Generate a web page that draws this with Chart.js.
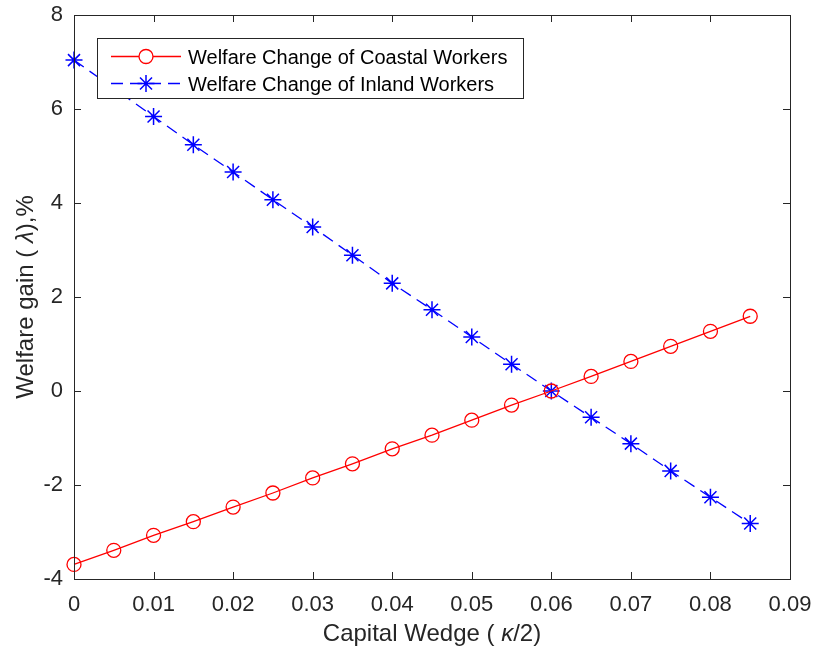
<!DOCTYPE html>
<html>
<head>
<meta charset="utf-8">
<script src="https://cdn.jsdelivr.net/npm/chart.js@4.4.1/dist/chart.umd.min.js"></script>
<style>
  html, body { margin: 0; padding: 0; background: #ffffff; }
  #wrap { width: 815px; height: 649px; }
</style>
</head>
<body>
<div id="wrap"><canvas id="c" width="815" height="649"></canvas></div>
<script>
// ---- Data ----
const kappaHalf = [0, 0.005, 0.01, 0.015, 0.02, 0.025, 0.03, 0.035, 0.04, 0.045,
                   0.05, 0.055, 0.06, 0.065, 0.07, 0.075, 0.08, 0.085];
const coastal = [-3.69, -3.39, -3.07, -2.78, -2.47, -2.17, -1.85, -1.55, -1.23, -0.94,
                 -0.62, -0.30, 0.00, 0.31, 0.63, 0.95, 1.27, 1.59];
const inland = [7.04, 6.44, 5.84, 5.24, 4.66, 4.07, 3.49, 2.89, 2.29, 1.73,
                1.15, 0.57, 0.00, -0.56, -1.12, -1.70, -2.26, -2.82];
const seriesNames = ['Welfare Change of Coastal Workers', 'Welfare Change of Inland Workers'];
const xTicks = [0, 0.01, 0.02, 0.03, 0.04, 0.05, 0.06, 0.07, 0.08, 0.09];
const yTicks = [-4, -2, 0, 2, 4, 6, 8];
const xTitleParts = [['Capital Wedge ( ', false], ['κ', true], ['/2)', false]];
const yTitleParts = [['Welfare gain ( ', false], ['λ', true], ['),%', false]];

const AX = '#262626';
const FONT = 'Arial, "Liberation Sans", Helvetica, sans-serif';

function toPts(xs, ys) { return xs.map((x, i) => ({ x: x, y: ys[i] })); }

function drawParts(ctx, parts, size) {
  let total = 0;
  parts.forEach(p => {
    ctx.font = (p[1] ? 'italic ' : '') + size + 'px ' + FONT;
    total += ctx.measureText(p[0]).width;
  });
  let x = -total / 2;
  parts.forEach(p => {
    ctx.font = (p[1] ? 'italic ' : '') + size + 'px ' + FONT;
    ctx.fillText(p[0], x, 0);
    x += ctx.measureText(p[0]).width;
  });
}

const framePlugin = {
  id: 'matlabFrame',
  afterDatasetsDraw(chart) {
    const { ctx, chartArea: a, scales } = chart;
    const xs = scales.x, ys = scales.y;
    ctx.save();
    ctx.strokeStyle = AX;
    ctx.lineWidth = 1;
    ctx.strokeRect(Math.round(a.left) + 0.5, Math.round(a.top) + 0.5,
                   Math.round(a.right - a.left), Math.round(a.bottom - a.top));
    const tl = 7;
    ctx.beginPath();
    xTicks.forEach(v => {
      const px = Math.round(xs.getPixelForValue(v)) + 0.5;
      ctx.moveTo(px, a.bottom); ctx.lineTo(px, a.bottom - tl);
      ctx.moveTo(px, a.top); ctx.lineTo(px, a.top + tl);
    });
    yTicks.forEach(v => {
      const py = Math.round(ys.getPixelForValue(v)) + 0.5;
      ctx.moveTo(a.left, py); ctx.lineTo(a.left + tl, py);
      ctx.moveTo(a.right, py); ctx.lineTo(a.right - tl, py);
    });
    ctx.stroke();

    // legend box
    const bx = 97.5, by = 38.5, bw = 426, bh = 60;
    ctx.fillStyle = '#ffffff';
    ctx.fillRect(bx, by, bw, bh);
    ctx.strokeStyle = AX;
    ctx.lineWidth = 1;
    ctx.strokeRect(bx, by, bw, bh);
    const rows = [56.5, 83.5];
    chart.data.datasets.forEach((ds, i) => {
      const yy = rows[i];
      ctx.save();
      ctx.strokeStyle = ds.borderColor;
      ctx.lineWidth = ds.borderWidth;
      ctx.setLineDash(ds.borderDash || []);
      ctx.beginPath();
      ctx.moveTo(111, yy); ctx.lineTo(181, yy);
      ctx.stroke();
      ctx.setLineDash([]);
      ctx.lineWidth = ds.pointBorderWidth;
      Chart.helpers.drawPoint(ctx, {
        pointStyle: ds.pointStyle, radius: ds.pointRadius, rotation: 0,
        borderWidth: ds.pointBorderWidth
      }, 146, yy);
      ctx.restore();
      ctx.fillStyle = '#000000';
      ctx.font = '20px ' + FONT;
      ctx.textBaseline = 'alphabetic';
      ctx.textAlign = 'left';
      ctx.fillText(ds.label, 188, yy + 7.5);
    });

    // axis titles
    ctx.fillStyle = AX;
    ctx.textBaseline = 'alphabetic';
    ctx.textAlign = 'left';
    ctx.save();
    ctx.translate((a.left + a.right) / 2, 641);
    drawParts(ctx, xTitleParts, 24);
    ctx.restore();
    ctx.save();
    ctx.translate(33, (a.top + a.bottom) / 2);
    ctx.rotate(-Math.PI / 2);
    drawParts(ctx, yTitleParts, 24);
    ctx.restore();
    ctx.restore();
  }
};

new Chart(document.getElementById('c'), {
  type: 'line',
  data: {
    datasets: [
      {
        label: seriesNames[0],
        data: toPts(kappaHalf, coastal),
        borderColor: '#ff0000',
        backgroundColor: 'rgba(0,0,0,0)',
        borderWidth: 1.3,
        pointStyle: 'circle',
        pointRadius: 7,
        pointBorderWidth: 1.3,
        pointBackgroundColor: 'rgba(0,0,0,0)',
        pointBorderColor: '#ff0000',
        fill: false,
        tension: 0,
        clip: 12
      },
      {
        label: seriesNames[1],
        data: toPts(kappaHalf, inland),
        borderColor: '#0000ff',
        backgroundColor: 'rgba(0,0,0,0)',
        borderWidth: 1.3,
        borderDash: [12, 7],
        pointStyle: 'star',
        pointRadius: 8.5,
        pointBorderWidth: 1.5,
        pointBackgroundColor: 'rgba(0,0,0,0)',
        pointBorderColor: '#0000ff',
        fill: false,
        tension: 0,
        clip: 12
      }
    ]
  },
  options: {
    responsive: false,
    animation: false,
    devicePixelRatio: 1,
    layout: { padding: { top: 15, right: 25, left: 0, bottom: 0 } },
    plugins: { legend: { display: false }, tooltip: { enabled: false }, title: { display: false } },
    scales: {
      x: {
        type: 'linear',
        min: 0, max: 0.09,
        afterFit(s) { s.height = 70; s.paddingLeft = 0; s.paddingRight = 0; },
        afterBuildTicks(s) { s.ticks = xTicks.map(v => ({ value: v })); },
        grid: { display: false, drawTicks: false, tickLength: 0 },
        border: { display: false },
        ticks: {
          padding: 13,
          color: AX,
          font: { family: FONT, size: 22 },
          maxRotation: 0,
          autoSkip: false,
          callback: v => (v === 0 ? '0' : String(Number(v.toFixed(2))))
        }
      },
      y: {
        type: 'linear',
        min: -4, max: 8,
        afterFit(s) { s.width = 74; s.paddingTop = 0; s.paddingBottom = 0; },
        afterBuildTicks(s) { s.ticks = yTicks.map(v => ({ value: v })); },
        grid: { display: false, drawTicks: false, tickLength: 0 },
        border: { display: false },
        ticks: {
          padding: 11,
          color: AX,
          font: { family: FONT, size: 22 },
          autoSkip: false,
          callback: v => String(v)
        }
      }
    }
  },
  plugins: [framePlugin]
});
</script>
</body>
</html>
